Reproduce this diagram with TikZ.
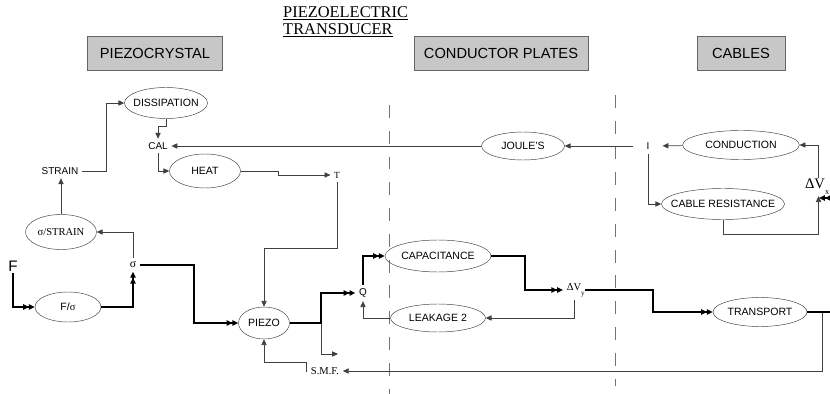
\documentclass[tikz,border=0pt]{standalone}
\usepackage{fontspec}
\setmainfont{Liberation Serif}
\setsansfont{Liberation Sans}
\usepackage{tikz}
\usetikzlibrary{arrows.meta,positioning,calc,shapes}

\newcommand{\ctext}[1]{\hbox to 0pt{\hss#1\hss}}

\begin{document}
\begin{tikzpicture}[x=0.03cm, y=-0.03cm,
    proc/.style={draw=black!75, ellipse, inner sep=0pt, font=\sffamily\fontsize{9}{10}\selectfont},
    var/.style={inner sep=3pt, font=\sffamily\fontsize{8.5}{10}\selectfont},
    rvar/.style={inner sep=3pt, font=\rmfamily\fontsize{9}{10}\selectfont},
    head/.style={draw=black!60, fill=black!22, minimum height=1.02cm, font=\sffamily\fontsize{12.5}{14}\selectfont},
    signal/.style={draw=black!75, line width=0.6pt, -{Triangle[length=5pt,width=4.5pt]}},
    flow/.style={line width=1.3pt, -{Triangle[length=5pt,width=4.5pt]Triangle[length=5pt,width=4.5pt]}},
    divider/.style={black!55, line width=0.7pt, dash pattern=on 11pt off 11pt}]
    \useasboundingbox (0,0) rectangle (830,394);

    % Title and headers
    \node[anchor=west, align=left, inner sep=0pt, font=\rmfamily\fontsize{14}{14.5}\selectfont] (title) at (283,22)
        {\underline{PIEZOELECTRIC}\\\underline{TRANSDUCER}};
    \node[head, minimum width=4.05cm] (hcrystal) at (155,53) {PIEZOCRYSTAL};
    \node[head, minimum width=5.22cm] (hplates) at (501,53) {CONDUCTOR PLATES};
    \node[head, minimum width=2.64cm] (hcables) at (741,53) {CABLES};

    % Dividers
    \draw[divider] (389,105) -- (389,394);
    \draw[divider] (615,95) -- (615,386);

    % Piezocrystal
    \node[var] (strain) at (60,171) {STRAIN};
    \node[proc, minimum width=2.49cm, minimum height=0.93cm] (diss) at (166,103) {\ctext{DISSIPATION}};
    \node[var] (cal) at (158,146) {CAL};
    \node[proc, minimum width=2.13cm, minimum height=1.02cm] (heat) at (205,171) {\ctext{HEAT}};
    \node[rvar, font=\rmfamily\fontsize{8}{9}\selectfont] (temp) at (337,175) {T};
    \node[proc, minimum width=2.13cm, minimum height=1.05cm, font=\rmfamily\fontsize{9}{10}\selectfont] (sst) at (61,232) {\ctext{σ/STRAIN}};
    \node[rvar, font=\rmfamily\fontsize{10}{11}\selectfont] (sigma) at (133,265) {σ};
    \node[var, font=\sffamily\fontsize{13}{14}\selectfont, inner sep=1pt] (force) at (13,266) {F};
    \node[proc, minimum width=1.98cm, minimum height=0.9cm] (fsig) at (68,307) {\ctext{F/{\rmfamily σ}}};
    \node[proc, minimum width=1.53cm, minimum height=0.96cm] (piezo) at (264,323) {\ctext{PIEZO}};
    \node[rvar] (smf) at (325,371) {S.M.F.};

    % Conductor plates
    \node[var] (q) at (363,293) {Q};
    \node[proc, minimum width=3.18cm, minimum height=0.96cm] (cap) at (438,256) {\ctext{CAPACITANCE}};
    \node[proc, minimum width=2.85cm, minimum height=0.84cm] (leak) at (438,318) {\ctext{LEAKAGE 2}};
    \node[rvar] (dvy) at (574,290) {ΔV\rlap{\raisebox{-4pt}{\fontsize{6}{6}\selectfont y}}};
    \node[proc, minimum width=2.49cm, minimum height=0.84cm] (joule) at (523,146) {\ctext{JOULE'S}};

    % Cables
    \node[var, inner xsep=11pt, inner ysep=4pt] (cur) at (648,146) {I};
    \node[proc, minimum width=3.5cm, minimum height=0.87cm] (cond) at (741,145) {\ctext{CONDUCTION}};
    \node[proc, minimum width=3.69cm, minimum height=0.93cm] (cres) at (723,204) {\ctext{CABLE RESISTANCE}};
    \node[rvar, font=\rmfamily\fontsize{12.5}{13}\selectfont, inner sep=1pt] (dvx) at (815,187) {ΔV\rlap{\raisebox{-5pt}{\fontsize{7}{7}\selectfont x}}};
    \node[proc, minimum width=2.82cm, minimum height=0.87cm] (transport) at (760,312) {\ctext{TRANSPORT}};

    \coordinate (split) at (321,323);
    \coordinate (smfin) at (338,354);
    \coordinate (tapp) at (822,312);
    \coordinate (edge) at (830,312);
    \coordinate (cablein) at (830,198);
    \coordinate (dvxin) at (819,198);

    % Thin connectors
    \draw[signal] (strain) -- (106,171) |- (diss);
    \draw[signal] (diss.south) -- (166,126) -| (cal.north);
    \draw[signal] (joule) -- (cal);
    \draw[signal] (cal.south) |- (heat.west);
    \draw[signal] (heat.east) -- (278,171) |- (temp.west);
    \draw[signal] (temp.south) -- (337,248) -| (piezo.north);
    \draw[signal] (sigma.north) |- (sst.east);
    \draw[signal] (sst.north) -- (sst.north |- strain.south);
    \draw[signal] (split) |- (smfin);
    \draw[signal] (smf.west) -| (306,362) -| (piezo.south);
    \draw[signal] (tapp) |- (smf.east);
    \draw[signal] (leak.west) -| (q.south);
    \draw[signal] (dvy.south) |- (leak.east);
    \draw[signal] (cur) -- (joule);
    \draw[signal] (cond) -- (cur);
    \draw[signal] ([xshift=3pt]dvx.north) |- (cond.east);
    \draw[signal] (cur.south) |- (cres.west);
    \draw[signal] (cres.south) -- (723,234) -| ([xshift=3pt]dvx.south);

    % Thick connectors
    \draw[flow] (force.south) |- (fsig.west);
    \draw[flow] (fsig.east) -| (sigma.south);
    \draw[flow] (sigma.east) -- (194,265) |- (piezo.west);
    \draw[flow] (piezo.east) -- (split) |- (q.west);
    \draw[flow] (q.north) |- (cap.west);
    \draw[flow] (cap.east) -- (525,256) |- (dvy.west);
    \draw[flow] (dvy.east) -- (653,290) |- (transport.west);
    \draw[line width=1.3pt] (transport.east) -- (edge);
    \draw[flow] (cablein) -- (dvxin);
\end{tikzpicture}
\end{document}
